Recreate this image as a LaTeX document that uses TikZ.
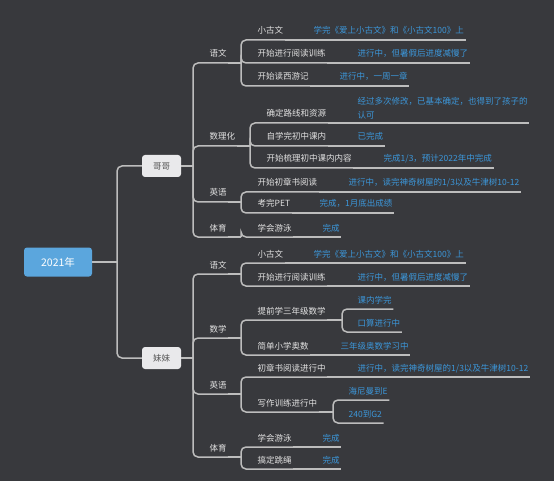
\documentclass[tikz,border=0pt]{standalone}
\usepackage{fontspec}
\setmainfont{Noto Sans CJK SC}
\definecolor{bg}{HTML}{38393D}
\definecolor{lgray}{HTML}{BDBDBD}
\definecolor{tgray}{HTML}{E2E2E2}
\definecolor{nblue}{HTML}{3C97DA}
\definecolor{rootc}{HTML}{5BA6DD}
\definecolor{kgray}{HTML}{E9E9EB}
\definecolor{kdark}{HTML}{555555}

\begin{document}
\begin{tikzpicture}[x = 1pt, y = -1pt, font = {\fontsize{8.5pt}{14pt}\selectfont},
	link/.style = {draw = lgray, line width = 1.5pt, rounded corners = 5pt},
	topic/.style = {anchor = south west, text = tgray, inner xsep = 1.5pt, inner ysep = 3.8pt, text height = 7pt, text depth = 2pt},
	note/.style = {topic, text = nblue},
	kid/.style = {rectangle, fill = kgray, text = kdark, rounded corners = 3pt, minimum width = 39pt, minimum height = 22pt, inner sep = 0pt}]
\useasboundingbox (0,0) rectangle (554,481);
\fill[bg] (0,0) rectangle (554,481);

\node[fill = rootc, text = white, rounded corners = 3pt, minimum width = 68pt, minimum height = 29pt, inner sep = 0pt, font = {\fontsize{10.5pt}{12pt}\selectfont}] (ROOT) at (58, 262) {2021年};
\node[kid] (GG) at (161.5, 166) {哥哥};
\node[kid] (MM) at (161.5, 358) {妹妹};
\coordinate (ROOT-b) at (117, 262);
\coordinate (GG-b) at (193, 166);
\coordinate (MM-b) at (193, 358);

% 哥哥
\node[topic] (GYW) at (208, 63) {语文};
\node[topic] (GSL) at (208, 146) {数理化};
\node[topic] (GYY) at (208, 202) {英语};
\node[topic] (GTY) at (208, 237) {体育};
\coordinate (GYW-b) at (241, 63);
\coordinate (GSL-b) at (250, 146);
\coordinate (GYY-b) at (241, 202);
\coordinate (GTY-b) at (241, 237);

\node[topic] (GYW1) at (256, 40) {小古文};
\node[note] (GYW1-n) at (312, 40) {学完《爱上小古文》和《小古文100》上};
\node[topic] (GYW2) at (256, 63) {开始进行阅读训练};
\node[note] (GYW2-n) at (356, 63) {进行中，但暑假后进度减慢了};
\node[topic] (GYW3) at (256, 86) {开始读西游记};
\node[note] (GYW3-n) at (338, 86) {进行中，一周一章};

\node[topic] (GSL1) at (265, 123) {确定路线和资源};
\node[note, align = left, text height = {}, text depth = {}] (GSL1-n) at (356, 123) {经过多次修改，已基本确定，也得到了孩子的\\认可};
\node[topic] (GSL2) at (265, 146) {自学完初中课内};
\node[note] (GSL2-n) at (356, 146) {已完成};
\node[topic] (GSL3) at (265, 168) {开始梳理初中课内内容};
\node[note] (GSL3-n) at (382, 168) {完成1/3，预计2022年中完成};

\node[topic] (GYY1) at (256, 192) {开始初章书阅读};
\node[note] (GYY1-n) at (347, 192) {进行中，读完神奇树屋的1/3以及牛津树10-12};
\node[topic] (GYY2) at (256, 213) {考完PET};
\node[note] (GYY2-n) at (318, 213) {完成，1月底出成绩};

\node[topic] (GTY1) at (256, 237) {学会游泳};
\node[note] (GTY1-n) at (321, 237) {完成};

% 妹妹
\node[topic] (MYW) at (208, 274) {语文};
\node[topic] (MSX) at (208, 338) {数学};
\node[topic] (MYY) at (208, 394) {英语};
\node[topic] (MTY) at (208, 457) {体育};
\coordinate (MYW-b) at (241, 274);
\coordinate (MSX-b) at (241, 338);
\coordinate (MYY-b) at (241, 394);
\coordinate (MTY-b) at (241, 457);

\node[topic] (MYW1) at (256, 263) {小古文};
\node[note] (MYW1-n) at (312, 263) {学完《爱上小古文》和《小古文100》上};
\node[topic] (MYW2) at (256, 286) {开始进行阅读训练};
\node[note] (MYW2-n) at (356, 286) {进行中，但暑假后进度减慢了};

\node[topic] (MSX1) at (256, 320) {提前学三年级数学};
\coordinate (MSX1-b) at (342, 320);
\node[note] (MSX11) at (356, 309) {课内学完};
\node[note] (MSX12) at (356, 332) {口算进行中};
\node[topic] (MSX2) at (256, 355) {简单小学奥数};
\node[note] (MSX2-n) at (339, 355) {三年级奥数学习中};

\node[topic] (MYY1) at (256, 377) {初章书阅读进行中};
\node[note] (MYY1-n) at (356, 377) {进行中，读完神奇树屋的1/3以及牛津树10-12};
\node[topic] (MYY2) at (256, 412) {写作训练进行中};
\coordinate (MYY2-b) at (333, 412);
\node[note] (MYY21) at (347, 400) {海尼曼到E};
\node[note] (MYY22) at (347, 423) {240到G2};

\node[topic] (MTY1) at (256, 447) {学会游泳};
\node[note] (MTY1-n) at (321, 447) {完成};
\node[topic] (MTY2) at (256, 469) {搞定跳绳};
\node[note] (MTY2-n) at (321, 469) {完成};

\draw[link] (ROOT.east) -- (ROOT-b);
\foreach \k in {GG, MM}
	\draw[link] (ROOT-b) |- (\k.west);
\foreach \k in {GG, MM}
	\draw[link] (\k.east) -- (\k-b);
\foreach \s in {GYW, GSL, GYY, GTY}
	\draw[link] (GG-b) |- (\s.south east);
\foreach \s in {MYW, MSX, MYY, MTY}
	\draw[link] (MM-b) |- (\s.south east);
\foreach \s in {GYW, GSL, GYY, GTY, MYW, MSX, MYY, MTY, MSX1, MYY2}
	\draw[link] (\s.south east) -- (\s-b);

\foreach \p/\c in {GYW/GYW1, GYW/GYW2, GYW/GYW3, GSL/GSL1, GSL/GSL2, GSL/GSL3, GYY/GYY1, GYY/GYY2, GTY/GTY1,
		MYW/MYW1, MYW/MYW2, MSX/MSX1, MSX/MSX2, MYY/MYY1, MYY/MYY2, MTY/MTY1, MTY/MTY2,
		MSX1/MSX11, MSX1/MSX12, MYY2/MYY21, MYY2/MYY22}
	\draw[link] (\p-b) |- (\c.south east);
\foreach \c in {GYW1, GYW2, GYW3, GSL1, GSL2, GSL3, GYY1, GYY2, GTY1, MYW1, MYW2, MSX2, MYY1, MTY1, MTY2}
	\draw[link] (\c.south east) -- (\c-n.south east);
\end{tikzpicture}
\end{document}
